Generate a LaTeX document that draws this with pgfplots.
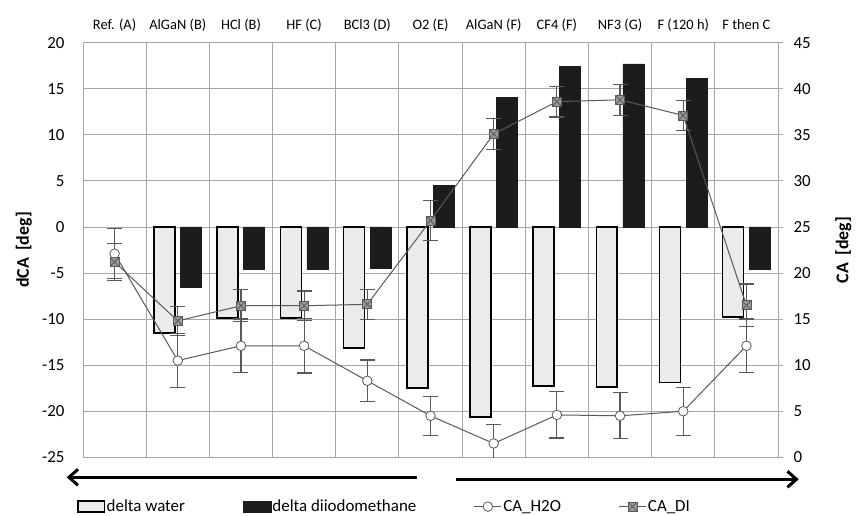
\documentclass[border=0pt]{standalone}
\usepackage{fontspec}
\setmainfont{Carlito}
\usepackage{pgfplots}
\usepackage{pgfplotstable}
\pgfplotsset{compat=1.18}
\usetikzlibrary{arrows.meta}
\definecolor{gridc}{HTML}{A6A6A6}
\definecolor{linec}{HTML}{595959}
\definecolor{wbar}{HTML}{EBEBEB}
\definecolor{kbar}{HTML}{1C1C1C}
\definecolor{markc}{HTML}{9A9A9A}
\pgfdeclareplotmark{boxx}{%
 \pgfpathrectangle{\pgfqpoint{-\pgfplotmarksize}{-\pgfplotmarksize}}{\pgfqpoint{2\pgfplotmarksize}{2\pgfplotmarksize}}%
 \pgfusepathqfillstroke
 \pgfpathmoveto{\pgfqpoint{-\pgfplotmarksize}{-\pgfplotmarksize}}\pgfpathlineto{\pgfqpoint{\pgfplotmarksize}{\pgfplotmarksize}}%
 \pgfpathmoveto{\pgfqpoint{-\pgfplotmarksize}{\pgfplotmarksize}}\pgfpathlineto{\pgfqpoint{\pgfplotmarksize}{-\pgfplotmarksize}}%
 \pgfusepathqstroke}

\pgfplotstableread{
x water di
1 -11.5 -6.5
2 -9.9 -4.6
3 -9.9 -4.6
4 -13.15 -4.5
5 -17.5 4.5
6 -20.6 14.1
7 -17.25 17.45
8 -17.4 17.7
9 -16.9 16.1
10 -9.8 -4.6
}\bars

\pgfplotstableread{
x h2o h2oerr di dierr
0 22.1 2.7 21.2 2.0
1 10.5 2.9 14.8 1.6
2 12.1 2.9 16.45 1.75
3 12.1 2.95 16.45 1.6
4 8.3 2.25 16.6 1.65
5 4.5 2.1 25.7 2.2
6 1.5 2.1 35.1 1.65
7 4.6 2.5 38.6 1.67
8 4.5 2.5 38.8 1.7
9 5.0 2.6 37.1 1.65
10 12.1 2.9 16.5 2.3
}\lines

\begin{document}
\begin{tikzpicture}[x=1bp,y=1bp]
\useasboundingbox (0,0) rectangle (856,516);
\begin{axis}[
 at={(83bp,58.7bp)}, anchor=south west, scale only axis,
 width=695bp, height=414.6bp,
 xmin=-0.5, xmax=10.5, ymin=-25, ymax=20,
 ytick={-25,-20,...,20},
 xtick={0,...,10},
 xticklabels={Ref. (A), AlGaN (B), HCl (B), HF (C), BCl3 (D), O2 (E), AlGaN (F), CF4 (F), NF3 (G), F (120 h), F then C},
 xticklabel pos=upper,
 minor xtick={-0.5,0.5,...,10.5},
 xminorgrids=true, xmajorgrids=false, ymajorgrids=true,
 major tick length=0pt, minor tick length=0pt,
 grid style={gridc, line width=0.9bp},
 minor grid style={gridc, line width=0.9bp},
 axis line style={gridc, line width=0.9bp},
 /pgf/number format/assume math mode=true,
 yticklabel style={font=\fontsize{17}{20}\selectfont, xshift=-15bp},
 xticklabel style={font=\fontsize{14.5}{16}\selectfont, yshift=8bp, text height=1.6ex, text depth=0.45ex},
 ylabel={dCA\, [deg]},
 ylabel style={font=\fontsize{18}{21}\selectfont\bfseries, at={(axis description cs:-0.085,0.5)}, anchor=center},
]
\addplot[ybar, bar width=0.332, bar shift=-0.21, fill=wbar, draw=black, line width=1.6bp] table[x=x,y=water]{\bars};
\addplot[ybar, bar width=0.332, bar shift=0.21, fill=kbar, draw=kbar, line width=0.5bp] table[x=x,y=di]{\bars};
\end{axis}
\begin{axis}[
 at={(83bp,58.7bp)}, anchor=south west, scale only axis,
 width=695bp, height=414.6bp,
 xmin=-0.5, xmax=10.5, ymin=0, ymax=45,
 ytick={0,5,...,45},
 hide x axis,
 axis y line*=right,
 tick align=outside, major tick length=5bp,
 axis line style={gridc, line width=0.9bp},
 tick style={gridc, line width=0.9bp},
 /pgf/number format/assume math mode=true,
 yticklabel style={font=\fontsize{17}{20}\selectfont, xshift=7bp},
 ylabel={CA\, [deg]},
 ylabel style={font=\fontsize{18}{21}\selectfont\bfseries, at={(axis description cs:1.094,0.5)}, anchor=center, rotate=0},
 legend columns=4,
 legend style={at={(axis description cs:-0.0086,-0.119)}, anchor=west, draw=none, fill=none, inner sep=0pt,
   font=\fontsize{17}{20}\selectfont,
   nodes={inner xsep=1.5bp, inner ysep=0bp},
   /tikz/every even column/.append style={column sep=56bp}},
 linelegend/.style={legend image code/.code={\draw[mark repeat=2,mark phase=2,##1] plot coordinates {(0bp,0bp) (13.5bp,0bp) (27bp,0bp)};}},
]
\addlegendimage{legend image code/.code={\draw[fill=wbar, draw=black, line width=1.4bp] (0.7bp,-5.5bp) rectangle (27.3bp,5.5bp);}}
\addlegendentry{delta water}
\addlegendimage{legend image code/.code={\draw[fill=kbar, draw=kbar] (0bp,-5.5bp) rectangle (28bp,5.5bp);}}
\addlegendentry{delta diiodomethane}
\addplot[linec, line width=1bp, mark=*, mark size=4.8bp, mark options={fill=white, draw=linec, line width=0.8bp}, linelegend,
  error bars/.cd, y dir=both, y explicit,
  error bar style={linec, line width=1.2bp},
  error mark options={rotate=90, mark size=7.5bp, linec, line width=1.2bp}]
  table[x=x, y=h2o, y error=h2oerr]{\lines};
\addlegendentry{CA\_H2O}
\addplot[linec, line width=1bp, mark=boxx, mark size=4.5bp, mark options={fill=markc, draw=linec, line width=0.8bp}, linelegend,
  error bars/.cd, y dir=both, y explicit,
  error bar style={linec, line width=1.2bp},
  error mark options={rotate=90, mark size=7.5bp, linec, line width=1.2bp}]
  table[x=x, y=di, y error=dierr]{\lines};
\addlegendentry{CA\_DI}
\end{axis}
\draw[line width=3bp, -{Straight Barb[length=9bp, width=16bp]}] (416.7,38.7) -- (66.7,38.7);
\draw[line width=3bp, -{Straight Barb[length=9bp, width=16bp]}] (456,36.7) -- (798.7,36.7);
\end{tikzpicture}
\end{document}
